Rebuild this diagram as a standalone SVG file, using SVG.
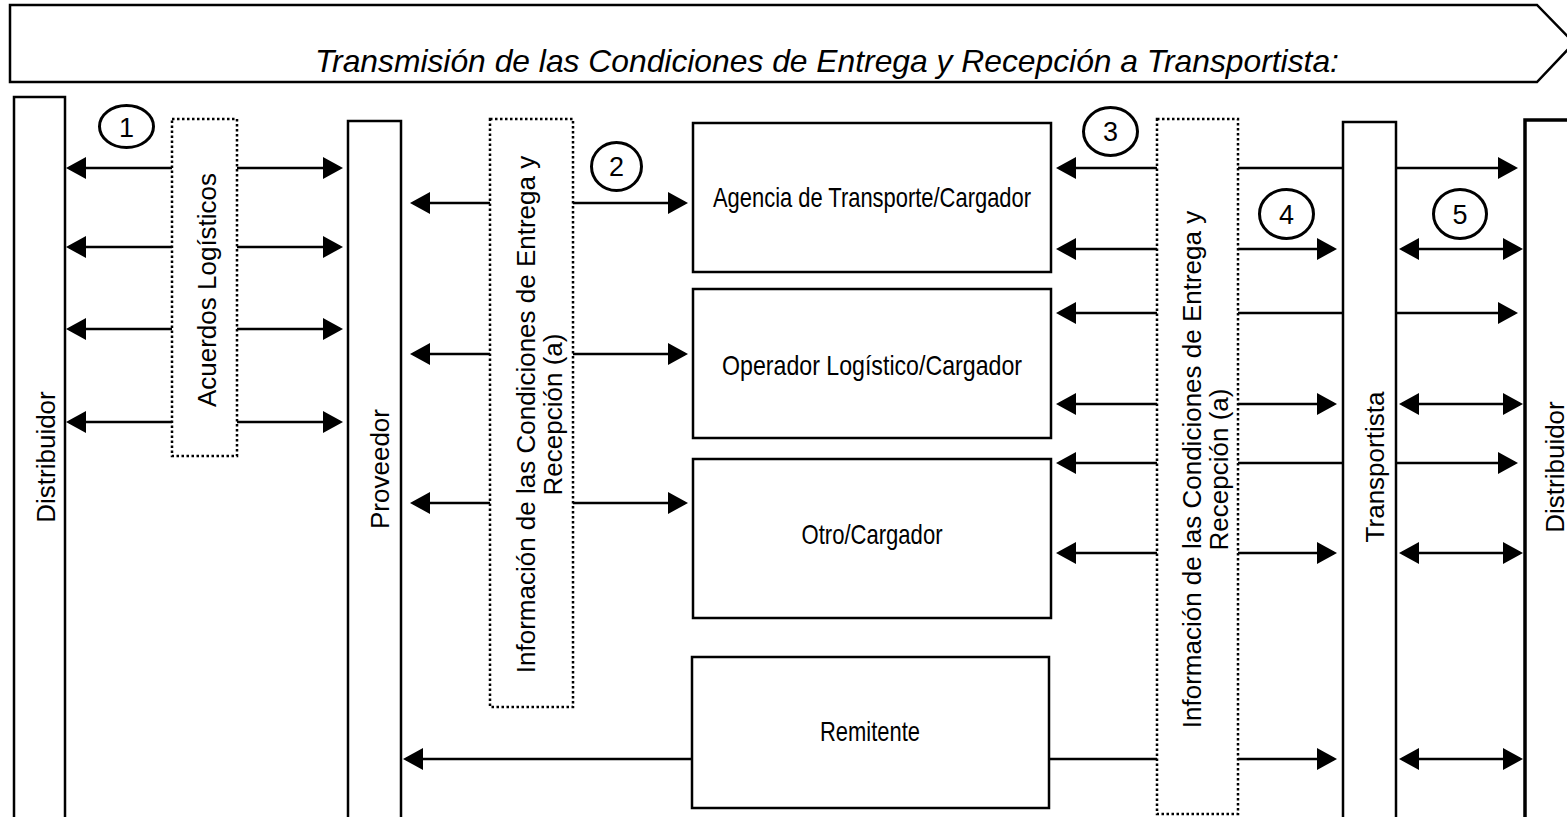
<svg xmlns="http://www.w3.org/2000/svg" width="1567" height="817" viewBox="0 0 1567 817">
<style>
  .box{fill:#fff;stroke:#000;stroke-width:2.5}
  .thick{fill:#fff;stroke:#000;stroke-width:3.5}
  .dot{fill:#fff;stroke:#000;stroke-width:2.5;stroke-dasharray:2.5 2.5}
  .num{fill:#fff;stroke:#000;stroke-width:3}
  .c{fill:none;stroke:#000;stroke-width:2.6}
  .a{marker-end:url(#ah)}
  .d{marker-start:url(#ah);marker-end:url(#ah)}
  text{font-family:"Liberation Sans",Arial,sans-serif;fill:#000}
  .rt{font-size:26px;text-anchor:middle}
  .bt{font-size:28px;text-anchor:middle}
  .nt{font-size:27px;text-anchor:middle}
</style>
<defs>
  <marker id="ah" viewBox="0 0 20 22" refX="17" refY="11" markerWidth="20" markerHeight="22" markerUnits="userSpaceOnUse" orient="auto-start-reverse">
    <path d="M0,0 L20,11 L0,22 z" fill="#000"/>
  </marker>
</defs>
<rect width="1567" height="817" fill="#fff"/>

<g id="header">
  <polygon points="10,5 1537,5 1574,43 1537,82 10,82" fill="#fff" stroke="#000" stroke-width="2.5"/>
  <text x="315" y="72" font-size="31.8" font-style="italic">Transmisión de las Condiciones de Entrega y Recepción a Transportista:</text>
</g>

<g id="distribuidor-left">
  <rect class="box" x="14" y="97" width="51" height="740"/>
  <text class="rt" transform="translate(55,457) rotate(-90)">Distribuidor</text>
</g>
<g id="acuerdos">
  <rect class="dot" x="172" y="119" width="65" height="337"/>
  <text class="rt" transform="translate(216,290) rotate(-90)">Acuerdos Logísticos</text>
</g>
<g id="proveedor">
  <rect class="box" x="348" y="121" width="53" height="720"/>
  <text class="rt" transform="translate(389,469) rotate(-90)">Proveedor</text>
</g>
<g id="info-1">
  <rect class="dot" x="490" y="119" width="83" height="588"/>
  <text class="rt" transform="translate(535,414.5) rotate(-90)"><tspan x="0" y="0">Información de las Condiciones de Entrega y</tspan><tspan x="0" y="27">Recepción (a)</tspan></text>
</g>
<g id="agencia">
  <rect class="box" x="693" y="123" width="358" height="149"/>
  <text class="bt" x="872" y="207" textLength="318" lengthAdjust="spacingAndGlyphs">Agencia de Transporte/Cargador</text>
</g>
<g id="operador">
  <rect class="box" x="693" y="289" width="358" height="149"/>
  <text class="bt" x="872" y="375" textLength="300" lengthAdjust="spacingAndGlyphs">Operador Logístico/Cargador</text>
</g>
<g id="otro">
  <rect class="box" x="693" y="459" width="358" height="159"/>
  <text class="bt" x="872" y="544" textLength="141" lengthAdjust="spacingAndGlyphs">Otro/Cargador</text>
</g>
<g id="remitente">
  <rect class="box" x="692" y="657" width="357" height="151"/>
  <text class="bt" x="870" y="741" textLength="100" lengthAdjust="spacingAndGlyphs">Remitente</text>
</g>
<g id="info-2">
  <rect class="dot" x="1157" y="119" width="81" height="695"/>
  <text class="rt" transform="translate(1201,469.5) rotate(-90)"><tspan x="0" y="0">Información de las Condiciones de Entrega y</tspan><tspan x="0" y="27">Recepción (a)</tspan></text>
</g>
<g id="transportista">
  <rect class="box" x="1343" y="122" width="53" height="720"/>
  <text class="rt" transform="translate(1384,467) rotate(-90)">Transportista</text>
</g>
<g id="distribuidor-right">
  <rect class="thick" x="1525" y="120" width="60" height="720"/>
  <text class="rt" transform="translate(1564,467) rotate(-90)">Distribuidor</text>
</g>

<g id="steps">
  <ellipse class="num" cx="126.5" cy="126.5" rx="27" ry="21"/>
  <text class="nt" x="126.5" y="136.5">1</text>
  <ellipse class="num" cx="616.5" cy="166.5" rx="25" ry="24"/>
  <text class="nt" x="616.5" y="176">2</text>
  <ellipse class="num" cx="1110.5" cy="131.5" rx="27" ry="24"/>
  <text class="nt" x="1110.5" y="141">3</text>
  <ellipse class="num" cx="1286.5" cy="214" rx="27" ry="24.5"/>
  <text class="nt" x="1286.5" y="223.5">4</text>
  <ellipse class="num" cx="1460" cy="214" rx="26.5" ry="24.5"/>
  <text class="nt" x="1460" y="223.5">5</text>
</g>

<g id="connectors">
  <path class="c a" d="M172,168 H69"/><path class="c a" d="M237,168 H340"/>
  <path class="c a" d="M172,247 H69"/><path class="c a" d="M237,247 H340"/>
  <path class="c a" d="M172,329 H69"/><path class="c a" d="M237,329 H340"/>
  <path class="c a" d="M172,422 H69"/><path class="c a" d="M237,422 H340"/>

  <path class="c a" d="M490,203 H413"/><path class="c a" d="M573,203 H685"/>
  <path class="c a" d="M490,354 H413"/><path class="c a" d="M573,354 H685"/>
  <path class="c a" d="M490,503 H413"/><path class="c a" d="M573,503 H685"/>
  <path class="c a" d="M692,759 H406"/>

  <path class="c a" d="M1157,168 H1059"/>
  <path class="c a" d="M1157,249 H1059"/>
  <path class="c a" d="M1157,313 H1059"/>
  <path class="c a" d="M1157,404 H1059"/>
  <path class="c a" d="M1157,463 H1059"/>
  <path class="c a" d="M1157,553 H1059"/>
  <path class="c" d="M1049,759 H1157"/>

  <path class="c" d="M1238,168 H1343"/>
  <path class="c a" d="M1238,249 H1334"/>
  <path class="c" d="M1238,313 H1343"/>
  <path class="c a" d="M1238,404 H1334"/>
  <path class="c" d="M1238,463 H1343"/>
  <path class="c a" d="M1238,553 H1334"/>
  <path class="c a" d="M1238,759 H1334"/>

  <path class="c a" d="M1396,168 H1515"/>
  <path class="c d" d="M1402,249 H1520"/>
  <path class="c a" d="M1396,313 H1515"/>
  <path class="c d" d="M1402,404 H1520"/>
  <path class="c a" d="M1396,463 H1515"/>
  <path class="c d" d="M1402,553 H1520"/>
  <path class="c d" d="M1402,759 H1520"/>
</g>
</svg>
